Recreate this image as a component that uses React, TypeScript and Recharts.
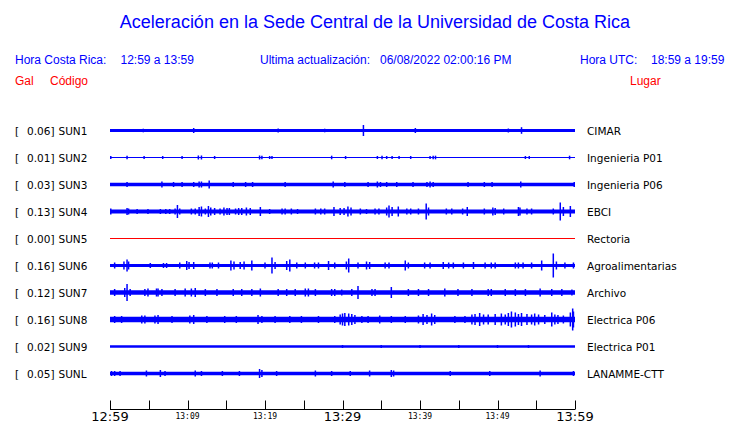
import { ComposedChart, Area, Line, Scatter, ErrorBar, XAxis, YAxis } from 'recharts'

const TRACES = ['SUN1', 'SUN2', 'SUN3', 'SUN4', 'SUN5', 'SUN6', 'SUN7', 'SUN8', 'SUN9', 'SUNL']
const PEAKS = ['0.06', '0.01', '0.03', '0.13', '0.00', '0.16', '0.12', '0.16', '0.02', '0.05']
const PLACES = ['CIMAR', 'Ingenieria P01', 'Ingenieria P06', 'EBCI', 'Rectoria', 'Agroalimentarias', 'Archivo', 'Electrica P06', 'Electrica P01', 'LANAMME-CTT']

// background noise level of each trace (same units as spikes)
const NOISE = [1.5, 0, 1.8, 1.9, 0, 1.6, 2.3, 2.8, 1.3, 1.8]

// minutes after 12:59, amplitude
const SPIKES_SUN1 = [[4.3, 1.8], [10.8, 2.5], [21.7, 2], [27.7, 1.8], [32.7, 5.5], [39.4, 2.5], [51.4, 2], [53.1, 3.3]]
const SPIKES_SUN2 = [[0.1, 1.5], [2.2, 1.8], [4.4, 1.5], [6.8, 1.5], [9.3, 1.5], [11.4, 2], [11.8, 2], [13.5, 1.5], [19.3, 2], [19.6, 1.8], [20.6, 1.5], [20.9, 1.5], [28.6, 1.8], [30.4, 1.5], [34.5, 1.5], [35.1, 1.8], [35.7, 1.5], [36.4, 1.5], [37.3, 1.5], [38.8, 1.5], [41.3, 1.5], [41.7, 1.8], [42.0, 1.8], [53.6, 1.5], [54.1, 1.5], [59.3, 1.8]]
const SPIKES_SUN3 = [[2.2, 2.5], [6.7, 3], [8.2, 2.5], [9.3, 2.5], [10.8, 2.5], [11.5, 3], [11.8, 3], [12.8, 4], [15.9, 2.5], [17.5, 2.5], [18.4, 2.5], [22.6, 2.5], [28.8, 3], [30.3, 2.5], [33.3, 2.5], [34.5, 3], [34.9, 2.5], [35.7, 2.5], [37.0, 2.5], [39.1, 2.5], [40.9, 2.5], [41.3, 3], [41.7, 2.5], [46.2, 2.5], [48.3, 2.5], [49.3, 2.5], [53.0, 3], [59.9, 2.5]]
const SPIKES_SUN4 = [[0.1, 3], [2.2, 3.5], [2.4, 3], [3.5, 2.5], [4.9, 2.5], [6.5, 2.5], [7.2, 2.5], [7.7, 2.5], [8.4, 3], [8.7, 6.5], [9.0, 3], [10.5, 3], [11.0, 3], [11.5, 4.5], [11.8, 5], [12.3, 3], [12.7, 5.5], [13.0, 4], [13.5, 3.5], [14.2, 3], [14.7, 4], [15.1, 3.5], [15.4, 3.5], [16.2, 3], [16.6, 3.5], [17.0, 3.5], [17.6, 4], [18.1, 3.5], [19.4, 4.5], [20.6, 2.5], [22.2, 3], [22.6, 3], [23.4, 3], [24.2, 2.5], [26.5, 3], [27.2, 3], [27.7, 3], [28.9, 4.5], [29.7, 3.5], [30.2, 3.5], [30.7, 5], [31.1, 4], [32.3, 3], [33.1, 2.5], [34.2, 3], [34.7, 3], [35.7, 4], [36.0, 6], [36.4, 4.5], [37.2, 5], [38.3, 3], [38.8, 3], [39.8, 3], [40.8, 8], [41.1, 4], [43.4, 3], [44.1, 3], [45.5, 3], [46.1, 4.5], [48.3, 3], [49.4, 4], [49.7, 3.5], [50.8, 3], [52.7, 4.5], [52.9, 4], [53.8, 3], [54.4, 3], [57.2, 3], [58.1, 9], [58.5, 4.5], [59.4, 5.5]]
const SPIKES_SUN5: number[][] = []
const SPIKES_SUN6 = [[0.6, 3], [1.8, 4], [2.2, 6], [2.4, 4], [5.2, 2.5], [6.9, 2.5], [7.3, 2.5], [9.0, 3], [9.9, 4.5], [10.2, 3.5], [10.8, 3.5], [12.9, 3], [13.2, 3], [14.0, 3], [15.6, 5], [16.0, 4], [16.8, 3.5], [17.3, 4], [18.3, 5], [20.0, 3], [20.9, 8], [21.3, 3.5], [22.8, 4.5], [23.2, 6], [24.1, 3], [25.2, 3], [26.4, 3], [26.9, 3], [28.2, 4.5], [29.0, 3], [30.5, 4], [30.8, 7], [32.0, 3], [33.1, 4], [33.5, 3.5], [35.5, 3], [36.0, 3], [38.1, 5], [38.5, 3], [40.6, 3], [41.3, 3], [43.0, 3.5], [43.7, 3], [44.3, 3], [45.6, 3], [46.9, 3.5], [48.4, 3], [49.2, 3], [49.7, 3], [52.3, 3], [52.7, 3], [53.3, 3], [54.4, 3], [55.7, 5], [57.2, 12], [57.6, 4], [58.7, 3], [59.8, 3]]
const SPIKES_SUN7 = [[0.6, 3.5], [1.9, 4.5], [2.2, 8.5], [2.6, 3.5], [4.5, 3.5], [4.9, 4], [6.0, 4], [6.2, 4], [6.7, 3.5], [8.4, 3.5], [9.7, 4], [10.5, 4], [11.0, 4.5], [12.3, 3.5], [13.8, 3.5], [15.9, 3.5], [17.0, 3.5], [18.3, 3.5], [19.4, 4], [21.7, 3.5], [22.8, 3.5], [23.9, 3.5], [25.2, 4], [25.6, 4], [26.5, 3.5], [28.6, 3.5], [29.0, 3.5], [29.9, 3], [31.2, 3.5], [32.0, 6.5], [33.8, 3.5], [34.2, 3.5], [36.3, 5.5], [38.5, 3.5], [39.8, 3.5], [41.1, 3.5], [43.2, 4], [44.9, 3.5], [46.7, 3.5], [48.8, 3.5], [49.2, 3.5], [51.0, 3.5], [52.3, 3.5], [53.6, 3.5], [55.5, 4], [57.0, 3.5], [58.3, 3.5], [59.6, 3]]
const SPIKES_SUN8 = [[0.6, 3.5], [1.5, 3.5], [4.1, 4], [4.5, 4], [5.8, 4], [6.2, 4.5], [8.0, 3.5], [10.3, 4], [10.8, 4.5], [12.5, 3.5], [14.8, 3.5], [16.3, 3.5], [19.1, 4.5], [19.6, 3.5], [21.3, 3.5], [23.2, 3.5], [24.7, 3.5], [26.9, 3.5], [29.0, 3.5], [29.7, 5], [30.0, 6], [30.3, 6.5], [30.8, 6], [31.2, 5.5], [31.6, 4.5], [32.5, 3.5], [33.3, 3.5], [34.8, 4], [36.3, 3.5], [38.1, 3.5], [39.8, 4], [40.4, 5.5], [40.9, 4.5], [41.5, 6], [41.9, 4.5], [44.5, 3.5], [45.8, 3.5], [46.7, 5], [47.1, 5.5], [47.7, 6.5], [48.2, 5], [48.8, 5], [49.7, 5.5], [50.5, 6], [51.0, 5], [51.4, 6.5], [51.8, 8], [52.3, 7], [52.7, 5.5], [53.1, 6.5], [53.8, 5.5], [54.4, 5], [54.8, 6], [55.3, 5], [56.1, 4.5], [57.0, 7], [57.4, 5], [57.8, 4.5], [58.5, 4], [59.4, 7], [59.7, 11], [59.8, 8]]
const SPIKES_SUN9 = [[30.0, 1.5], [35.0, 1.5], [40.0, 1.5], [45.0, 1.5], [50.0, 1.5], [54.0, 1.5]]
const SPIKES_SUNL = [[0.2, 2.5], [0.6, 2.5], [1.3, 2.5], [4.7, 3], [6.5, 3.5], [7.1, 2.5], [11.0, 3], [11.8, 2.5], [14.5, 2.5], [16.7, 2.5], [19.3, 4.5], [19.6, 3.5], [21.5, 2.5], [26.5, 3], [28.6, 2.5], [31.0, 2.5], [33.5, 3], [36.3, 3.5], [36.6, 3], [43.9, 2.5], [49.0, 2.5], [55.5, 3], [59.8, 2.5]]

const SPIKES = [SPIKES_SUN1, SPIKES_SUN2, SPIKES_SUN3, SPIKES_SUN4, SPIKES_SUN5, SPIKES_SUN6, SPIKES_SUN7, SPIKES_SUN8, SPIKES_SUN9, SPIKES_SUNL]

const X_TICKS = [0, 5, 10, 15, 20, 25, 30, 35, 40, 45, 50, 55, 60]
const X_LABELS: Record<number, string> = { 0: '12:59', 10: '13:09', 20: '13:19', 30: '13:29', 40: '13:39', 50: '13:49', 60: '13:59' }

const AMP_UNIT = 1 / 27 // one trace spacing = 27 amplitude units
const BLUE = '#0000ff'
const RED = '#ff0000'
const SANS = '"Liberation Sans", Arial, sans-serif'
const DEJAVU = '"DejaVu Sans", sans-serif'

const center = (i: number) => TRACES.length - i

const baseRows = [0, 60].map((t) => {
  const row: Record<string, any> = { t }
  TRACES.forEach((_, i) => {
    const c = center(i)
    row['c' + i] = c
    row['b' + i] = [c - NOISE[i] * AMP_UNIT, c + NOISE[i] * AMP_UNIT]
  })
  return row
})

const spikeData = SPIKES.map((list, i) => list.map(([t, a]) => ({ t, y: center(i), e: a * AMP_UNIT })))

function TimeTick({ x, y, payload }: any) {
  const v = payload.value
  const label = X_LABELS[v]
  const big = v % 30 === 0
  const px = Math.round(x) + 0.5
  return (
    <g>
      <line x1={px} y1={y - 9} x2={px} y2={y} stroke="#000" strokeWidth={1} />
      {label && (
        <text
          x={x}
          y={big ? y + 11 : y + 9}
          textAnchor="middle"
          fontFamily={big ? DEJAVU : '"DejaVu Sans Mono", monospace'}
          fontSize={big ? 13 : 8}
          fill="#000"
        >
          {label}
        </text>
      )}
    </g>
  )
}

function CodeTick({ y, payload }: any) {
  const i = TRACES.length - payload.value
  if (i < 0 || i >= TRACES.length) return null
  return (
    <text y={y + 4} fontFamily={DEJAVU} fontSize={10.5} fill="#000">
      <tspan x={15}>[</tspan>
      <tspan x={27}>{PEAKS[i]}]</tspan>
      <tspan x={58.5}>{TRACES[i]}</tspan>
    </text>
  )
}

function PlaceTick({ y, payload }: any) {
  const i = TRACES.length - payload.value
  if (i < 0 || i >= TRACES.length) return null
  return (
    <text x={587} y={y + 4} fontFamily={DEJAVU} fontSize={10.5} fill="#000">
      {PLACES[i]}
    </text>
  )
}

export default function App() {
  const yTicks = TRACES.map((_, i) => center(i))
  return (
    <div style={{ position: 'absolute', left: 0, top: 0, width: 740, height: 423, background: '#fff' }}>
      <svg width={740} height={423} style={{ position: 'absolute', left: 0, top: 0 }}>
        <text x={375} y={28} textAnchor="middle" fontFamily={SANS} fontSize={18} fill={BLUE}>
          Aceleración en la Sede Central de la Universidad de Costa Rica
        </text>
        <g fontFamily={SANS} fontSize={12} fill={BLUE}>
          <text x={15} y={64}>Hora Costa Rica:</text>
          <text x={120.5} y={64}>12:59 a 13:59</text>
          <text x={260} y={64}>Ultima actualización:</text>
          <text x={380} y={64}>06/08/2022 02:00:16 PM</text>
          <text x={580} y={64}>Hora UTC:</text>
          <text x={651} y={64}>18:59 a 19:59</text>
        </g>
        <g fontFamily={SANS} fontSize={12} fill={RED}>
          <text x={15} y={85}>Gal</text>
          <text x={50} y={85}>Código</text>
          <text x={630} y={85}>Lugar</text>
        </g>
      </svg>
      <div style={{ position: 'absolute', left: 0, top: 0 }}>
        <ComposedChart width={740} height={423} data={baseRows} margin={{ top: 103.5, right: 0, bottom: 0, left: 0 }}>
          <XAxis
            dataKey="t"
            type="number"
            domain={[0, 60]}
            ticks={X_TICKS}
            interval={0}
            height={13.5}
            tickSize={0}
            tickMargin={0}
            axisLine={{ stroke: '#000', strokeWidth: 1 }}
            tickLine={false}
            tick={<TimeTick />}
          />
          <YAxis
            yAxisId="L"
            type="number"
            domain={[-1 / 3, 11]}
            allowDataOverflow
            ticks={yTicks}
            interval={0}
            width={110}
            axisLine={false}
            tickLine={false}
            tick={<CodeTick />}
          />
          <YAxis
            yAxisId="R"
            orientation="right"
            type="number"
            domain={[-1 / 3, 11]}
            allowDataOverflow
            ticks={yTicks}
            interval={0}
            width={165}
            axisLine={false}
            tickLine={false}
            tick={<PlaceTick />}
          />
          {TRACES.map((name, i) => (
            <Area
              key={'b' + name}
              yAxisId="L"
              dataKey={'b' + i}
              type="linear"
              stroke="none"
              fill={BLUE}
              fillOpacity={1}
              isAnimationActive={false}
              dot={false}
              activeDot={false}
            />
          ))}
          {TRACES.map((name, i) => (
            <Line
              key={'c' + name}
              yAxisId="L"
              dataKey={'c' + i}
              type="linear"
              stroke={name === 'SUN5' ? RED : BLUE}
              strokeWidth={1}
              dot={false}
              activeDot={false}
              isAnimationActive={false}
            />
          ))}
          {TRACES.map((name, i) => (
            <Scatter
              key={'s' + name}
              yAxisId="L"
              data={spikeData[i]}
              dataKey="y"
              shape={() => <g />}
              isAnimationActive={false}
            >
              <ErrorBar dataKey="e" direction="y" width={0} stroke={BLUE} strokeWidth={1.5} isAnimationActive={false} />
            </Scatter>
          ))}
        </ComposedChart>
      </div>
    </div>
  )
}
